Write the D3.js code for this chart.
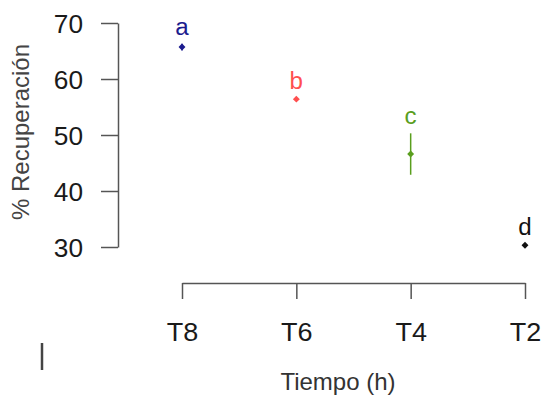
<!DOCTYPE html>
<html>
<head>
<meta charset="utf-8">
<script src="https://cdn.jsdelivr.net/npm/d3@7"></script>
<style>
  body { margin: 0; background: #fff; }
  text { font-family: "Liberation Sans", Arial, sans-serif; }
</style>
</head>
<body>
<svg id="chart" width="543" height="400"></svg>
<script>
// data
var tiempos = ["T8", "T6", "T4", "T2"];
var medias = [65.7, 56.4, 46.6, 30.3];
var errores = [0.6, 0.2, 3.7, 0.2];
var letras = ["a", "b", "c", "d"];
var colores = ["#1c1c8e", "#ff4f4f", "#5a9e1e", "#111111"];
var yTicks = [30, 40, 50, 60, 70];

var data = tiempos.map(function (t, i) {
  return { t: t, m: medias[i], e: errores[i], l: letras[i], c: colores[i] };
});

var svg = d3.select("#chart");

var x = d3.scalePoint().domain(tiempos).range([182, 525]);
var y = d3.scaleLinear().domain([30, 70]).range([247, 23]);

// stretch text a bit wider, the original glyphs are wide
function stretch(sel, k) {
  sel.each(function () {
    var len = this.getComputedTextLength();
    d3.select(this).attr("textLength", len * k).attr("lengthAdjust", "spacingAndGlyphs");
  });
}

// y axis
var yAxis = svg.append("g")
  .attr("transform", "translate(118,0)")
  .call(d3.axisLeft(y).tickValues(yTicks).tickSize(17).tickPadding(18).tickSizeOuter(0));
yAxis.select(".domain").attr("stroke", "#555").attr("stroke-width", 1.5);
yAxis.selectAll(".tick line").attr("stroke", "#555").attr("stroke-width", 1.5);
yAxis.selectAll(".tick text")
  .attr("font-size", 25).attr("fill", "#1a1a1a").attr("dy", "0.36em")
  .call(stretch, 1.05);

// x axis
var xAxis = svg.append("g")
  .attr("transform", "translate(0,283)")
  .call(d3.axisBottom(x).tickSize(16).tickPadding(20).tickSizeOuter(0));
xAxis.select(".domain").attr("stroke", "#555").attr("stroke-width", 1.5);
xAxis.selectAll(".tick line").attr("stroke", "#555").attr("stroke-width", 1.5);
xAxis.selectAll(".tick text")
  .attr("font-size", 25).attr("fill", "#1a1a1a")
  .attr("y", 58).attr("dy", 0)
  .call(stretch, 1.08);

// axis titles
svg.append("text")
  .attr("transform", "translate(29,132) rotate(-90)")
  .attr("text-anchor", "middle")
  .attr("font-family", "Open Sans")
  .attr("font-size", 24)
  .attr("fill", "#444")
  .text("% Recuperación");

svg.append("text")
  .attr("x", 338)
  .attr("y", 390)
  .attr("text-anchor", "middle")
  .attr("font-family", "Open Sans")
  .attr("font-size", 24)
  .attr("fill", "#333")
  .text("Tiempo (h)");

// error bars
svg.selectAll(".err")
  .data(data)
  .enter().append("line")
  .attr("class", "err")
  .attr("x1", function (d) { return x(d.t); })
  .attr("x2", function (d) { return x(d.t); })
  .attr("y1", function (d) { return y(d.m + d.e); })
  .attr("y2", function (d) { return y(d.m - d.e); })
  .attr("stroke", function (d) { return d.c; })
  .attr("stroke-width", 1.5);

// points (diamonds)
svg.selectAll(".pt")
  .data(data)
  .enter().append("path")
  .attr("class", "pt")
  .attr("d", d3.symbol().type(d3.symbolSquare).size(24))
  .attr("transform", function (d) { return "translate(" + x(d.t) + "," + y(d.m) + ") rotate(45)"; })
  .attr("fill", function (d) { return d.c; });

// letters
svg.selectAll(".let")
  .data(data)
  .enter().append("text")
  .attr("class", "let")
  .attr("x", function (d) { return x(d.t); })
  .attr("y", function (d) { return y(d.m + d.e) - 9; })
  .attr("text-anchor", "middle")
  .attr("font-size", 23)
  .attr("fill", function (d) { return d.c; })
  .text(function (d) { return d.l; })
  .call(stretch, 1.05);

// stray mark at bottom left
svg.append("line")
  .attr("x1", 42).attr("x2", 42)
  .attr("y1", 343).attr("y2", 370)
  .attr("stroke", "#444")
  .attr("stroke-width", 2.5);
</script>
</body>
</html>
